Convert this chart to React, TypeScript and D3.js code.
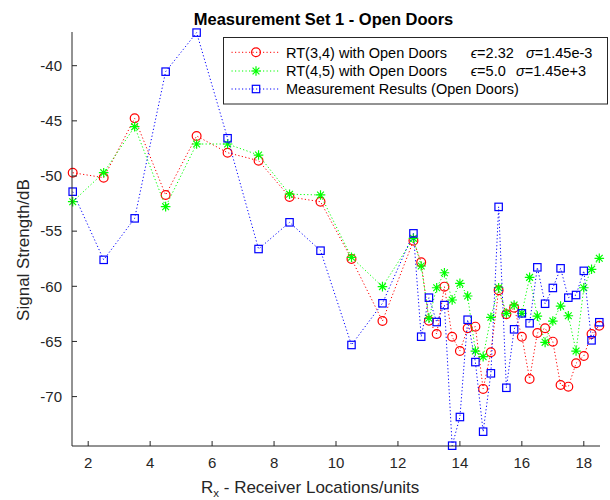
import React from "react";
import * as d3 from "d3";

const xs = [1.5, 2.5, 3.5, 4.5, 5.5, 6.5, 7.5, 8.5, 9.5, 10.5, 11.5,
  12.5, 12.75, 13.0, 13.25, 13.5, 13.75, 14.0, 14.25, 14.5, 14.75, 15.0, 15.25,
  15.5, 15.75, 16.0, 16.25, 16.5, 16.75, 17.0, 17.25, 17.5, 17.75, 18.0, 18.25, 18.5];

const rt34 = [-49.7, -50.15, -44.77, -51.72, -46.37, -47.89, -48.61, -51.9, -52.33, -57.52, -63.15,
  -55.87, -57.83, -63.12, -64.32, -60.03, -64.57, -65.87, -63.81, -63.66, -69.3, -65.98, -60.36,
  -62.54, -61.94, -64.57, -68.4, -64.23, -63.8, -65.02, -68.95, -69.1, -66.98, -66.32, -64.32, -63.57];

const rt45 = [-52.33, -49.7, -45.53, -52.78, -47.1, -47.1, -48.1, -51.65, -51.72, -57.37, -60.03,
  -55.65, -58.16, -62.9, -60.13, -58.77, -61.24, -59.73, -60.88, -65.87, -66.38, -62.81, -60.13,
  -62.45, -61.7, -62.45, -59.19, -62.7, -65.08, -63.15, -61.79, -62.67, -65.87, -60.13, -58.46, -57.46];

const meas = [-51.42, -57.6, -53.84, -40.54, -37.0, -46.58, -56.62, -54.2, -56.77, -65.32, -61.54,
  -55.2, -64.57, -61.03, -63.24, -61.7, -74.45, -71.85, -63.03, -66.87, -73.18, -67.89, -52.8,
  -69.2, -63.9, -62.45, -63.35, -58.28, -61.58, -60.15, -58.37, -61.03, -60.79, -58.6, -64.9, -63.26];

const xTicks = [2, 4, 6, 8, 10, 12, 14, 16, 18];
const yTicks = [-40, -45, -50, -55, -60, -65, -70];

const title = "Measurement Set 1 - Open Doors";
const yLabel = "Signal Strength/dB";
const legendLabels = ["RT(3,4) with Open Doors", "RT(4,5) with Open Doors", "Measurement Results (Open Doors)"];

const FONT = "'Liberation Sans', Arial, Helvetica, sans-serif";
const AX = "#262626";

const x = d3.scaleLinear().domain([1.5, 18.5]).range([72.7, 599.3]);
const y = d3.scaleLinear().domain([-40, -70]).range([65.7, 396.6]);

const L = 72, R = 600, T = 32, B = 446;

function Circle({ cx, cy }: { cx: number; cy: number }) {
  return <circle cx={cx} cy={cy} r={4.4} fill="none" stroke="#ff0000" strokeWidth={1.2} />;
}
function Square({ cx, cy }: { cx: number; cy: number }) {
  const s = 3.7;
  return <rect x={cx - s} y={cy - s} width={2 * s} height={2 * s} fill="none" stroke="#0000ff" strokeWidth={1.2} />;
}
function Star({ cx, cy }: { cx: number; cy: number }) {
  const a = 4.8, b = 3.4;
  const d = `M${cx - a},${cy}L${cx + a},${cy}M${cx},${cy - a}L${cx},${cy + a}M${cx - b},${cy - b}L${cx + b},${cy + b}M${cx - b},${cy + b}L${cx + b},${cy - b}`;
  return <path d={d} stroke="#00ff00" strokeWidth={1.2} fill="none" />;
}

export default function App() {
  const line = d3.line<number>().x((_, i) => x(xs[i])).y((v) => y(v));
  const dash = "1.2 2.3";
  const series = [
    { data: rt34, color: "#ff0000", M: Circle },
    { data: rt45, color: "#00ff00", M: Star },
    { data: meas, color: "#0000ff", M: Square },
  ];
  const legY = [52.3, 71, 89];
  return (
    <svg width={610} height={500} style={{ position: "absolute", left: 0, top: 0, background: "#fff" }} fontFamily={FONT}>
      <rect x={0} y={0} width={610} height={500} fill="#fff" />
      {series.map((s, k) => (
        <g key={k}>
          <path d={line(s.data) || ""} fill="none" stroke={s.color} strokeWidth={1} strokeDasharray={dash} />
          {s.data.map((v, i) => <s.M key={i} cx={x(xs[i])} cy={y(v)} />)}
        </g>
      ))}
      {/* axes */}
      <line x1={L} y1={B} x2={R} y2={B} stroke={AX} strokeWidth={1} />
      <line x1={L} y1={T} x2={L} y2={B} stroke={AX} strokeWidth={1} />
      {xTicks.map((t) => (
        <g key={t}>
          <line x1={x(t)} x2={x(t)} y1={B} y2={B - 5} stroke={AX} strokeWidth={1} />
          <text x={x(t)} y={468} textAnchor="middle" fontSize={15} fill={AX}>{t}</text>
        </g>
      ))}
      {yTicks.map((t) => (
        <g key={t}>
          <line x1={L} x2={L + 5} y1={y(t)} y2={y(t)} stroke={AX} strokeWidth={1} />
          <text x={62} y={y(t)} dy="0.35em" textAnchor="end" fontSize={15} fill={AX}>{t}</text>
        </g>
      ))}
      <text x={323.5} y={25} textAnchor="middle" fontSize={16.5} fontWeight="bold" fill="#000">{title}</text>
      <text transform="translate(29,250) rotate(-90)" textAnchor="middle" fontSize={17} fill={AX}>{yLabel}</text>
      <text x={201} y={493} fontSize={17} fill={AX}>
        R<tspan fontSize={11.5} dy={4}>x</tspan><tspan dy={-4}>{" - Receiver Locations/units"}</tspan>
      </text>
      {/* legend */}
      <rect x={223.5} y={37.5} width={384} height={66.5} fill="#fff" stroke={AX} strokeWidth={1} />
      {series.map((s, k) => (
        <g key={k}>
          <line x1={231.5} x2={280} y1={legY[k]} y2={legY[k]} stroke={s.color} strokeWidth={1} strokeDasharray={dash} />
          <s.M cx={256} cy={legY[k]} />
          <text x={286} y={legY[k]} dy="0.36em" fontSize={14.5} fill="#000">{legendLabels[k]}</text>
        </g>
      ))}
      <text x={470.7} y={legY[0]} dy="0.36em" fontSize={14.5} fill="#000"><tspan fontStyle="italic">ϵ</tspan>=2.32</text>
      <text x={526} y={legY[0]} dy="0.36em" fontSize={14.5} fill="#000"><tspan fontStyle="italic">σ</tspan>=1.45e-3</text>
      <text x={470.7} y={legY[1]} dy="0.36em" fontSize={14.5} fill="#000"><tspan fontStyle="italic">ϵ</tspan>=5.0</text>
      <text x={516} y={legY[1]} dy="0.36em" fontSize={14.5} fill="#000"><tspan fontStyle="italic">σ</tspan>=1.45e+3</text>
    </svg>
  );
}
